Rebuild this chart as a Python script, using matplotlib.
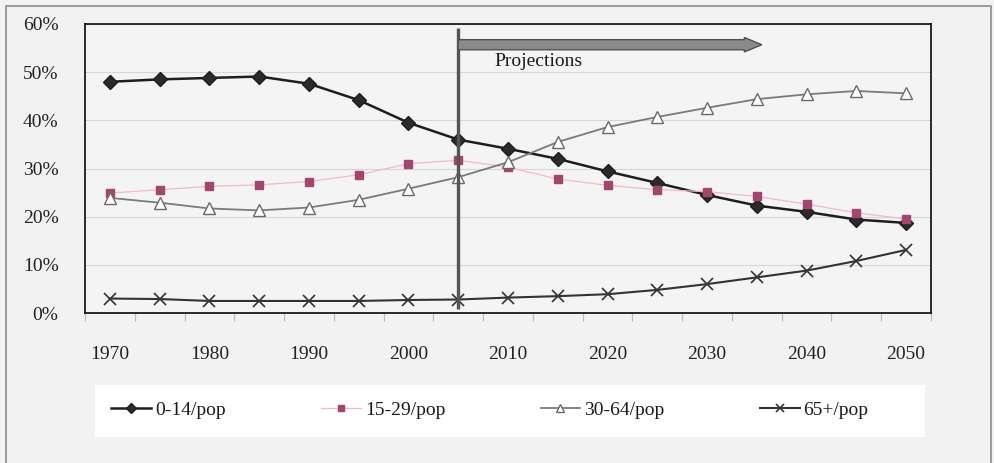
import numpy as np
import matplotlib
matplotlib.use("Agg")
import matplotlib.pyplot as plt
from matplotlib.patches import FancyArrow, Rectangle
from matplotlib.lines import Line2D

# Population shares by age group (% of total population), 5-year steps
years = [1970, 1975, 1980, 1985, 1990, 1995, 2000, 2005, 2010,
         2015, 2020, 2025, 2030, 2035, 2040, 2045, 2050]
year_labels = ["1970", "1980", "1990", "2000", "2010", "2020", "2030", "2040", "2050"]
age_0_14 = [48.0, 48.5, 48.8, 49.1, 47.6, 44.2, 39.5, 36.0, 34.1,
            32.0, 29.4, 27.0, 24.5, 22.3, 21.0, 19.4, 18.7]
age_15_29 = [24.9, 25.6, 26.3, 26.6, 27.3, 28.7, 31.0, 31.7, 30.3,
             27.8, 26.5, 25.6, 25.2, 24.2, 22.6, 20.8, 19.5]
age_30_64 = [23.9, 22.9, 21.7, 21.3, 21.9, 23.5, 25.8, 28.2, 31.3,
             35.5, 38.6, 40.7, 42.6, 44.4, 45.4, 46.1, 45.6]
age_65 = [3.0, 2.9, 2.5, 2.5, 2.5, 2.5, 2.7, 2.8, 3.2,
          3.5, 3.9, 4.8, 6.0, 7.4, 8.8, 10.8, 13.1]
series_labels = ["0-14/pop", "15-29/pop", "30-64/pop", "65+/pop"]
projection_start = 2005
projection_arrow_end = 2035.5

plt.rcParams["font.family"] = "Liberation Serif"

W, H = 995, 463
fig = plt.figure(figsize=(W / 100, H / 100), dpi=100, facecolor="#f2f2f2")
ax = fig.add_axes([85 / W, 1 - 313 / H, (931 - 85) / W, (313 - 24) / H])
ax.set_facecolor("#f4f4f4")

x = np.arange(len(years))
yr_to_x = lambda yr: (yr - years[0]) / 5.0

styles = [
    dict(color="#1e1e1e", lw=1.8, marker="D", ms=7, mfc="#2a2a2a", mec="#1e1e1e"),
    dict(color="#f2b9c9", lw=0.9, marker="s", ms=5.5, mfc="#a4456e", mec="#a4456e"),
    dict(color="#7a7a7a", lw=1.3, marker="^", ms=8, mfc="white", mec="#6a6a6a", mew=1.0),
    dict(color="#333333", lw=1.5, marker="x", ms=8, mec="#333333", mew=1.2),
]
for vals, st in zip([age_0_14, age_15_29, age_30_64, age_65], styles):
    ax.plot(x, vals, zorder=3, **st)

ax.set_xlim(-0.5, len(years) - 0.5)
ax.set_ylim(0, 60)
ax.set_yticks(range(0, 61, 10))
ax.set_yticklabels([f"{v}%" for v in range(0, 61, 10)])
ax.yaxis.grid(True, color="#d6d6d6", lw=0.8)
ax.set_axisbelow(True)
ax.tick_params(axis="y", length=0, pad=19, labelsize=14, labelcolor="#222222")

ax.set_xticks(x[::2])
ax.set_xticklabels(year_labels)
ax.set_xticks(np.arange(-0.5, len(years)), minor=True)
ax.tick_params(axis="x", which="major", length=0, pad=24, labelsize=14, labelcolor="#222222")
ax.tick_params(axis="x", which="minor", length=6, width=0.8, color="#bbbbbb")
for sp in ax.spines.values():
    sp.set_color("#1a1a1a")
    sp.set_linewidth(1.3)

# Start of projections: vertical marker and arrow
xp = yr_to_x(projection_start)
ax.plot([xp, xp], [0.8, 59.2], color="#555555", lw=2.4, zorder=4, solid_capstyle="butt")
ax.add_patch(FancyArrow(xp, 55.7, yr_to_x(projection_arrow_end) - xp, 0,
                        width=2.1, head_width=3.0, head_length=0.35,
                        length_includes_head=True, fc="#8a8a8a", ec="#505050",
                        lw=1.0, zorder=4))
ax.text(xp + 0.73, 52.3, "Projections", fontsize=14, ha="left", va="center",
        color="#1a1a1a", zorder=5)

# Legend panel and outer frame
fig.patches.append(Rectangle((95 / W, 1 - 437 / H), 830 / W, 52 / H,
                             transform=fig.transFigure, fc="white", ec="none", zorder=0))
fig.patches.append(Rectangle((6 / W, -0.02), 985 / W, 1.02 - 6 / H, transform=fig.transFigure,
                             fill=False, ec="#8c8c8c", lw=1.2, zorder=1))

handles = [Line2D([], [], **dict(st, ms=st["ms"] * 0.8)) for st in styles]
fig.legend(handles, series_labels, loc="center", bbox_to_anchor=(490 / W, 1 - 410 / H),
           ncol=4, frameon=False, prop={"size": 14}, handlelength=2.05,
           handletextpad=0.2, columnspacing=4.9, labelcolor="#1a1a1a")

fig.savefig("out.png", dpi=100, facecolor=fig.get_facecolor())
